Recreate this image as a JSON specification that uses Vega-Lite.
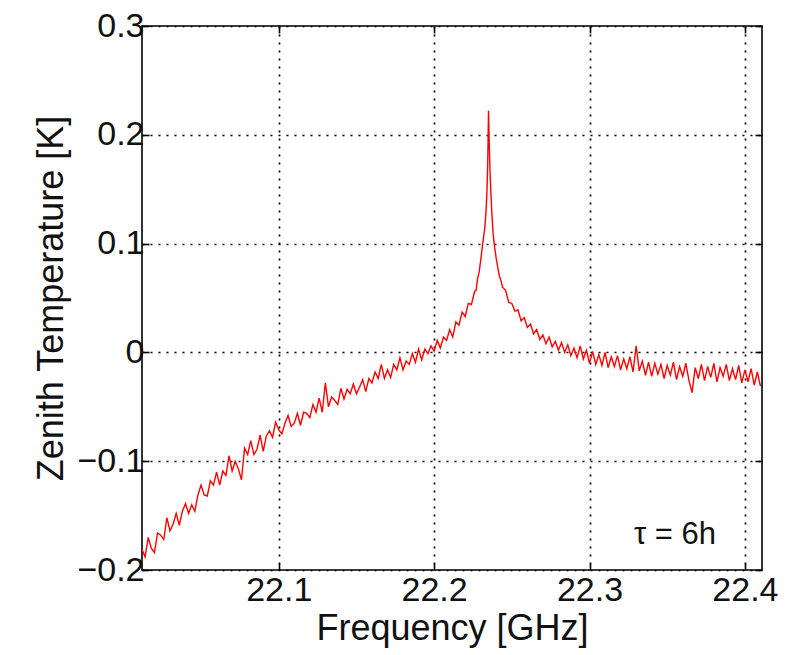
{
  "$schema": "https://vega.github.io/schema/vega-lite/v6.json",
  "width": 620,
  "height": 544,
  "autosize": {"type": "none"},
  "padding": {"left": 142, "top": 26, "right": 36, "bottom": 85},
  "background": "white",
  "config": {
    "view": {"stroke": "black", "strokeWidth": 1.6},
    "axis": {
      "labelFont": "Liberation Sans",
      "titleFont": "Liberation Sans",
      "labelFontSize": 34,
      "titleFontSize": 36,
      "labelColor": "#111",
      "titleColor": "#111",
      "titleFontWeight": "normal",
      "domain": false,
      "tickColor": "black",
      "tickWidth": 1.6,
      "gridColor": "black",
      "gridWidth": 1.7,
      "gridDash": [2, 6],
      "gridOpacity": 1
    }
  },
  "resolve": {"axis": {"x": "independent", "y": "independent"}},
  "layer": [
    {
      "data": {
        "values": [
          {"f": 22.012, "t": -0.181}, {"f": 22.014, "t": -0.188}, {"f": 22.016, "t": -0.170}, {"f": 22.018, "t": -0.180},
          {"f": 22.020, "t": -0.184}, {"f": 22.022, "t": -0.166}, {"f": 22.024, "t": -0.168}, {"f": 22.026, "t": -0.172},
          {"f": 22.028, "t": -0.152}, {"f": 22.030, "t": -0.164}, {"f": 22.032, "t": -0.158}, {"f": 22.034, "t": -0.148},
          {"f": 22.036, "t": -0.159}, {"f": 22.038, "t": -0.146}, {"f": 22.040, "t": -0.139}, {"f": 22.042, "t": -0.148},
          {"f": 22.044, "t": -0.140}, {"f": 22.046, "t": -0.146}, {"f": 22.048, "t": -0.131}, {"f": 22.050, "t": -0.122},
          {"f": 22.052, "t": -0.131}, {"f": 22.054, "t": -0.132}, {"f": 22.056, "t": -0.118}, {"f": 22.058, "t": -0.122},
          {"f": 22.060, "t": -0.110}, {"f": 22.062, "t": -0.122}, {"f": 22.064, "t": -0.109}, {"f": 22.066, "t": -0.113},
          {"f": 22.068, "t": -0.095}, {"f": 22.070, "t": -0.109}, {"f": 22.072, "t": -0.100}, {"f": 22.074, "t": -0.107},
          {"f": 22.076, "t": -0.117}, {"f": 22.078, "t": -0.088}, {"f": 22.080, "t": -0.094}, {"f": 22.082, "t": -0.081},
          {"f": 22.084, "t": -0.094}, {"f": 22.086, "t": -0.089}, {"f": 22.088, "t": -0.076}, {"f": 22.090, "t": -0.091},
          {"f": 22.092, "t": -0.077}, {"f": 22.094, "t": -0.072}, {"f": 22.096, "t": -0.078}, {"f": 22.098, "t": -0.064},
          {"f": 22.100, "t": -0.071}, {"f": 22.102, "t": -0.075}, {"f": 22.104, "t": -0.065}, {"f": 22.106, "t": -0.058},
          {"f": 22.108, "t": -0.068}, {"f": 22.110, "t": -0.065}, {"f": 22.112, "t": -0.056}, {"f": 22.114, "t": -0.067},
          {"f": 22.116, "t": -0.055}, {"f": 22.118, "t": -0.056}, {"f": 22.120, "t": -0.060}, {"f": 22.122, "t": -0.048},
          {"f": 22.124, "t": -0.055}, {"f": 22.126, "t": -0.042}, {"f": 22.128, "t": -0.055}, {"f": 22.130, "t": -0.028},
          {"f": 22.132, "t": -0.050}, {"f": 22.134, "t": -0.041}, {"f": 22.136, "t": -0.044}, {"f": 22.138, "t": -0.048},
          {"f": 22.140, "t": -0.033}, {"f": 22.142, "t": -0.043}, {"f": 22.144, "t": -0.034}, {"f": 22.146, "t": -0.038},
          {"f": 22.148, "t": -0.029}, {"f": 22.150, "t": -0.038}, {"f": 22.152, "t": -0.032}, {"f": 22.154, "t": -0.025},
          {"f": 22.156, "t": -0.036}, {"f": 22.158, "t": -0.024}, {"f": 22.160, "t": -0.028}, {"f": 22.162, "t": -0.018},
          {"f": 22.164, "t": -0.024}, {"f": 22.166, "t": -0.011}, {"f": 22.168, "t": -0.024}, {"f": 22.170, "t": -0.016},
          {"f": 22.172, "t": -0.023}, {"f": 22.174, "t": -0.011}, {"f": 22.176, "t": -0.016}, {"f": 22.178, "t": -0.005},
          {"f": 22.180, "t": -0.016}, {"f": 22.182, "t": -0.008}, {"f": 22.184, "t": -0.011}, {"f": 22.186, "t": -0.001},
          {"f": 22.188, "t": -0.009}, {"f": 22.190, "t": 0.003}, {"f": 22.192, "t": -0.007}, {"f": 22.194, "t": 0.003},
          {"f": 22.196, "t": -0.001}, {"f": 22.198, "t": 0.006}, {"f": 22.200, "t": 0.001}, {"f": 22.202, "t": 0.011},
          {"f": 22.204, "t": 0.004}, {"f": 22.206, "t": 0.014}, {"f": 22.208, "t": 0.011}, {"f": 22.210, "t": 0.021},
          {"f": 22.212, "t": 0.014}, {"f": 22.214, "t": 0.028}, {"f": 22.216, "t": 0.025}, {"f": 22.218, "t": 0.037},
          {"f": 22.220, "t": 0.033}, {"f": 22.222, "t": 0.045}, {"f": 22.224, "t": 0.044}, {"f": 22.226, "t": 0.056},
          {"f": 22.227, "t": 0.057}, {"f": 22.228, "t": 0.068}, {"f": 22.229, "t": 0.074}, {"f": 22.230, "t": 0.085},
          {"f": 22.231, "t": 0.097}, {"f": 22.232, "t": 0.108}, {"f": 22.2325, "t": 0.113}, {"f": 22.233, "t": 0.122},
          {"f": 22.2335, "t": 0.132}, {"f": 22.234, "t": 0.148}, {"f": 22.2345, "t": 0.175}, {"f": 22.235, "t": 0.222},
          {"f": 22.2355, "t": 0.190}, {"f": 22.236, "t": 0.165}, {"f": 22.2365, "t": 0.148}, {"f": 22.237, "t": 0.132},
          {"f": 22.2375, "t": 0.120}, {"f": 22.238, "t": 0.108}, {"f": 22.239, "t": 0.096}, {"f": 22.240, "t": 0.086},
          {"f": 22.241, "t": 0.078}, {"f": 22.242, "t": 0.070}, {"f": 22.243, "t": 0.066}, {"f": 22.244, "t": 0.060},
          {"f": 22.246, "t": 0.057}, {"f": 22.248, "t": 0.046}, {"f": 22.250, "t": 0.045}, {"f": 22.252, "t": 0.038},
          {"f": 22.254, "t": 0.039}, {"f": 22.256, "t": 0.029}, {"f": 22.258, "t": 0.032}, {"f": 22.260, "t": 0.023},
          {"f": 22.262, "t": 0.026}, {"f": 22.264, "t": 0.017}, {"f": 22.266, "t": 0.021}, {"f": 22.268, "t": 0.012},
          {"f": 22.270, "t": 0.016}, {"f": 22.272, "t": 0.008}, {"f": 22.274, "t": 0.014}, {"f": 22.276, "t": 0.005},
          {"f": 22.278, "t": 0.010}, {"f": 22.280, "t": 0.002}, {"f": 22.282, "t": 0.009}, {"f": 22.284, "t": 0.000},
          {"f": 22.286, "t": 0.007}, {"f": 22.288, "t": -0.003}, {"f": 22.290, "t": 0.004}, {"f": 22.292, "t": -0.005},
          {"f": 22.294, "t": 0.006}, {"f": 22.296, "t": -0.006}, {"f": 22.298, "t": 0.002}, {"f": 22.300, "t": -0.010},
          {"f": 22.302, "t": 0.001}, {"f": 22.304, "t": -0.011}, {"f": 22.306, "t": -0.002}, {"f": 22.308, "t": -0.012},
          {"f": 22.310, "t": 0.000}, {"f": 22.312, "t": -0.014}, {"f": 22.314, "t": -0.004}, {"f": 22.316, "t": -0.013},
          {"f": 22.318, "t": -0.003}, {"f": 22.320, "t": -0.016}, {"f": 22.322, "t": -0.006}, {"f": 22.324, "t": -0.015},
          {"f": 22.326, "t": -0.004}, {"f": 22.328, "t": -0.018}, {"f": 22.330, "t": 0.006}, {"f": 22.332, "t": -0.017},
          {"f": 22.334, "t": -0.008}, {"f": 22.336, "t": -0.021}, {"f": 22.338, "t": -0.009}, {"f": 22.340, "t": -0.022},
          {"f": 22.342, "t": -0.010}, {"f": 22.344, "t": -0.020}, {"f": 22.346, "t": -0.011}, {"f": 22.348, "t": -0.024},
          {"f": 22.350, "t": -0.012}, {"f": 22.352, "t": -0.021}, {"f": 22.354, "t": -0.009}, {"f": 22.356, "t": -0.025},
          {"f": 22.358, "t": -0.013}, {"f": 22.360, "t": -0.022}, {"f": 22.362, "t": -0.010}, {"f": 22.364, "t": -0.026},
          {"f": 22.366, "t": -0.037}, {"f": 22.368, "t": -0.014}, {"f": 22.370, "t": -0.024}, {"f": 22.372, "t": -0.011},
          {"f": 22.374, "t": -0.026}, {"f": 22.376, "t": -0.013}, {"f": 22.378, "t": -0.023}, {"f": 22.380, "t": -0.010},
          {"f": 22.382, "t": -0.027}, {"f": 22.384, "t": -0.014}, {"f": 22.386, "t": -0.022}, {"f": 22.388, "t": -0.011},
          {"f": 22.390, "t": -0.026}, {"f": 22.392, "t": -0.015}, {"f": 22.394, "t": -0.025}, {"f": 22.396, "t": -0.012},
          {"f": 22.398, "t": -0.028}, {"f": 22.400, "t": -0.016}, {"f": 22.402, "t": -0.027}, {"f": 22.404, "t": -0.015},
          {"f": 22.406, "t": -0.030}, {"f": 22.408, "t": -0.018}, {"f": 22.410, "t": -0.031}
        ]
      },
      "mark": {"type": "line", "color": "#ff0000", "strokeWidth": 1.4, "clip": true},
      "encoding": {
        "x": {
          "field": "f", "type": "quantitative",
          "scale": {"domain": [22.012, 22.411], "nice": false, "zero": false},
          "axis": {"orient": "bottom", "values": [22.1, 22.2, 22.3, 22.4], "format": ".1f", "grid": true, "tickSize": -7, "labelPadding": 10, "title": "Frequency [GHz]", "titlePadding": 4}
        },
        "y": {
          "field": "t", "type": "quantitative",
          "scale": {"domain": [-0.2, 0.3], "nice": false, "zero": false},
          "axis": {"orient": "left", "values": [-0.2, -0.1, 0, 0.1, 0.2, 0.3], "format": ".1~f", "grid": true, "tickSize": -7, "labelPadding": 5, "title": "Zenith Temperature [K]", "titlePadding": 6}
        }
      }
    },
    {
      "data": {"values": [{"f": 22.355, "t": -0.176, "label": "τ = 6h"}]},
      "mark": {"type": "text", "font": "Liberation Sans", "fontSize": 31, "color": "#111", "align": "center", "baseline": "alphabetic"},
      "encoding": {
        "x": {"field": "f", "type": "quantitative", "axis": {"orient": "top", "values": [22.1, 22.2, 22.3, 22.4], "labels": false, "grid": false, "tickSize": -7, "title": null}},
        "y": {"field": "t", "type": "quantitative", "axis": {"orient": "right", "values": [-0.2, -0.1, 0, 0.1, 0.2, 0.3], "labels": false, "grid": false, "tickSize": -7, "title": null}},
        "text": {"field": "label"}
      }
    }
  ]
}
